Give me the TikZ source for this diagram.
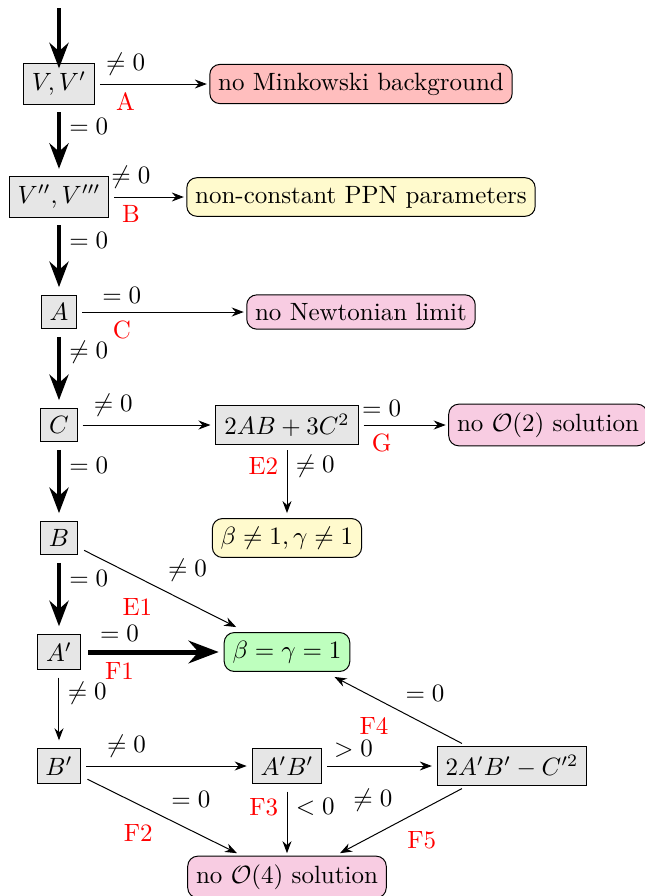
\documentclass[tikz,border=0pt]{standalone}
\usetikzlibrary{arrows.meta}
\definecolor{boxgray}{RGB}{230,230,230}
\definecolor{badred}{RGB}{255,190,190}
\definecolor{warnyellow}{RGB}{255,250,205}
\definecolor{nopink}{RGB}{248,204,226}
\definecolor{okgreen}{RGB}{190,255,190}
\begin{document}
\begin{tikzpicture}[x=0.4pt,y=-0.4pt,
  test/.style={draw,fill=boxgray,inner sep=3.33pt},
  result/.style={draw,rounded corners=4pt,inner sep=3.33pt},
  main/.style={-{Stealth},line width=1.6pt},
  bigarr/.style={-{Stealth},line width=2pt},
  branch/.style={-{Stealth},thin},
  tag/.style={text=red}]
\useasboundingbox (0,0) rectangle (645,896);

% decision boxes
\node[test] (V)   at (59,84)  {$V, V'$};
\node[test] (VV)  at (59,197) {$V'', V'''$};
\node[test] (A)   at (59,312) {$A$};
\node[test] (C)   at (59,425) {$C$};
\node[test] (B)   at (59,538) {$B$};
\node[test] (Ap)  at (59,652) {$A'$};
\node[test] (Bp)  at (59,766) {$B'$};
\node[test] (D2)  at (287,425) {$2AB+3C^2$};
\node[test] (ApBp) at (287,766) {$A'B'$};
\node[test] (D4)  at (512,766) {$2A'B'-C'^2$};

% outcomes
\node[result,fill=badred]     (mink) at (361,84)  {no Minkowski background};
\node[result,fill=warnyellow] (ppn)  at (361,197) {non-constant PPN parameters};
\node[result,fill=nopink]     (newt) at (361,312) {no Newtonian limit};
\node[result,fill=nopink]     (o2)   at (548,425) {no $\mathcal{O}(2)$ solution};
\node[result,fill=warnyellow] (bg)   at (287,538) {$\beta\neq1,\gamma\neq1$};
\node[result,fill=okgreen]    (gr)   at (287,652) {$\beta=\gamma=1$};
\node[result,fill=nopink]     (o4)   at (287,877) {no $\mathcal{O}(4)$ solution};

% entry
\coordinate (top) at (59,8);
\draw[main] (top) -- ([yshift=-2pt]V.north);

% main spine
\draw[main] ([yshift=-3pt]V.south) -- node[right,pos=0.25]{$=0$} ([yshift=3pt]VV.north);
\draw[main] ([yshift=-3pt]VV.south) -- node[right,pos=0.25]{$=0$} ([yshift=3pt]A.north);
\draw[main] ([yshift=-3pt]A.south) -- node[right,pos=0.25]{$\neq0$} ([yshift=3pt]C.north);
\draw[main] ([yshift=-3pt]C.south) -- node[right,pos=0.25]{$=0$} ([yshift=3pt]B.north);
\draw[main] ([yshift=-3pt]B.south) -- node[right,pos=0.25]{$=0$} ([yshift=3pt]Ap.north);
\draw[branch] ([yshift=-3pt]Ap.south) -- node[right,pos=0.25]{$\neq0$} ([yshift=3pt]Bp.north);

% side branches
\draw[branch] ([xshift=2pt]V.east) -- node[above,pos=0.24]{$\neq0$} node[below,tag,pos=0.24]{A} ([xshift=-1pt]mink.west);
\draw[branch] ([xshift=2pt]VV.east) -- node[above,pos=0.24]{$\neq0$} node[below,tag,pos=0.24]{B} ([xshift=-1pt]ppn.west);
\draw[branch] ([xshift=2pt]A.east) -- node[above,pos=0.245]{$=0$} node[below,tag,pos=0.245]{C} ([xshift=-1pt]newt.west);
\draw[branch] ([xshift=2pt]C.east) -- node[above,pos=0.24]{$\neq0$} ([xshift=-2pt]D2.west);
\draw[branch] ([xshift=2pt]D2.east) -- node[above,pos=0.22]{$=0$} node[below,tag,pos=0.22]{G} ([xshift=-1pt]o2.west);
\draw[branch] ([yshift=-2pt]D2.south) -- node[right,pos=0.25]{$\neq0$} node[left,tag,pos=0.25]{E2} ([yshift=2pt]bg.north);
\draw[branch] ([xshift=2.5pt,yshift=2pt]B.south east)
  -- node[pos=0.68,yshift=13pt]{$\neq0$} node[tag,pos=0.35,yshift=-11.8pt]{E1}
  ([xshift=5pt,yshift=2pt]gr.north west);
\draw[bigarr] ([xshift=3pt]Ap.east) -- node[above,pos=0.24]{$=0$} node[below,tag,pos=0.24]{F1} ([xshift=-2pt]gr.west);

% fourth-order branches
\draw[branch] ([xshift=2pt]Bp.east) -- node[above,pos=0.25]{$\neq0$} ([xshift=-2pt]ApBp.west);
\draw[branch] ([xshift=2pt]ApBp.east) -- node[above,pos=0.25]{$>0$} ([xshift=-2pt]D4.west);
\draw[branch] ([yshift=-3pt]ApBp.south) -- node[right,pos=0.25]{$<0$} node[left,tag,pos=0.25]{F3} ([yshift=1pt]o4.north);
\draw[branch] ([xshift=2.4pt,yshift=2pt]Bp.south east)
  -- node[pos=0.675,yshift=12pt,xshift=1pt]{$=0$} node[tag,pos=0.34,yshift=-11.6pt]{F2}
  ([xshift=-20pt,yshift=1pt]o4.north);
\draw[branch] ([xshift=-20pt,yshift=-1pt]D4.south)
  -- node[pos=0.73,yshift=14pt]{$\neq0$} node[tag,pos=0.33,yshift=-12pt]{F5}
  ([xshift=21.2pt,yshift=1pt]o4.north);
\draw[branch] ([xshift=-20pt,yshift=1pt]D4.north)
  -- node[pos=0.29,yshift=12.2pt]{$=0$} node[tag,pos=0.69,yshift=-11.3pt]{F4}
  ([xshift=19pt,yshift=-2pt]gr.south);
\end{tikzpicture}
\end{document}
